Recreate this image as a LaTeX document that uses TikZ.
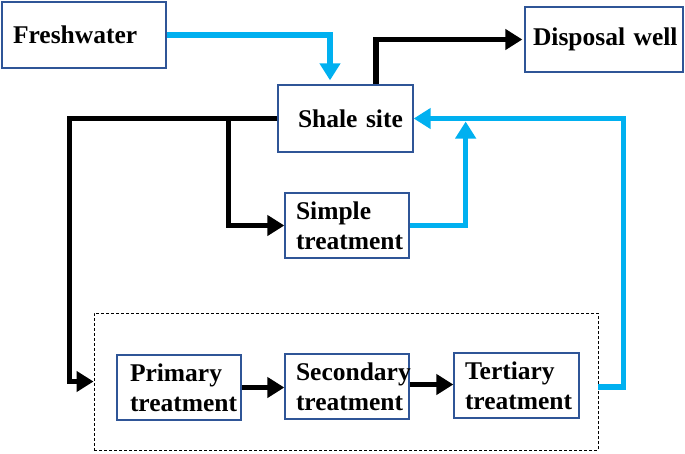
\documentclass[tikz,border=0pt]{standalone}
\usepackage{fontspec}
\setmainfont{Liberation Serif}
\usetikzlibrary{arrows.meta}
\definecolor{boxblue}{RGB}{47,85,151}
\definecolor{flowblue}{RGB}{0,176,240}

\begin{document}
\begin{tikzpicture}[x=1pt,y=-1pt]
  \tikzstyle{every node}+=[font=\fontsize{25.5}{30}\selectfont\bfseries]
  \tikzstyle{unit}=[draw=boxblue,line width=1.3pt,fill=white,inner xsep=0pt,inner ysep=0pt,align=left,minimum width=124pt,minimum height=65pt,text width=102pt]
  \tikzstyle{blackflow}=[black,line width=5.5pt,-{Triangle[width=20pt,length=17pt]}]
  \tikzstyle{blueflow}=[flowblue,line width=5.5pt,-{Triangle[width=20pt,length=17pt]}]
  \useasboundingbox (0,0) rectangle (685,453);
  \node [draw=black,dashed,line width=0.9pt,dash pattern=on 3pt off 2pt,minimum width=504pt,minimum height=137pt] (stage) at (346,381.5) {};
  \node [unit,minimum width=164pt,minimum height=66pt,text width=142pt] (fresh) at (84,35) {Freshwater};
  \node [unit,minimum width=158pt,text width=142pt] (disposal) at (604,39.5) {Disposal~well};
  \node [unit,minimum width=135pt,minimum height=67pt,text width=95pt] (shale) at (345.5,118.5) {Shale~site};
  \node [unit] (simple) at (347,225.5) {Simple\\treatment};
  \node [unit,text width=98pt] (primary) at (179,387.5) {Primary\\treatment};
  \node [unit] (secondary) at (347,386.5) {Secondary\\treatment};
  \node [unit,minimum width=125pt,text width=103pt] (tertiary) at (516.5,385.5) {Tertiary\\treatment};
  % water in and out of the site
  \draw [blueflow,shorten >=4pt] (fresh.east) -| ([xshift=-15.5pt]shale.north);
  \draw [blackflow,shorten >=2pt] ([xshift=30.5pt]shale.north) |- (disposal.west);
  % flowback to treatment
  \draw [blackflow] (shale.west) -- ++(-208,0) |- (stage.west);
  \draw [blackflow] ([xshift=-49pt]shale.west) |- (simple.west);
  \draw [blackflow] (primary.east) -- (primary.east -| secondary.west);
  \draw [blackflow] ([yshift=2pt]secondary.east) -- ([yshift=2pt]secondary.east -| tertiary.west);
  % reuse
  \draw [blueflow] (simple.east) -| ([xshift=52pt,yshift=-3pt]shale.east);
  \draw [blueflow] ([yshift=-5.5pt]stage.east) -- ++(25,0) |- (shale.east);
\end{tikzpicture}
\end{document}
